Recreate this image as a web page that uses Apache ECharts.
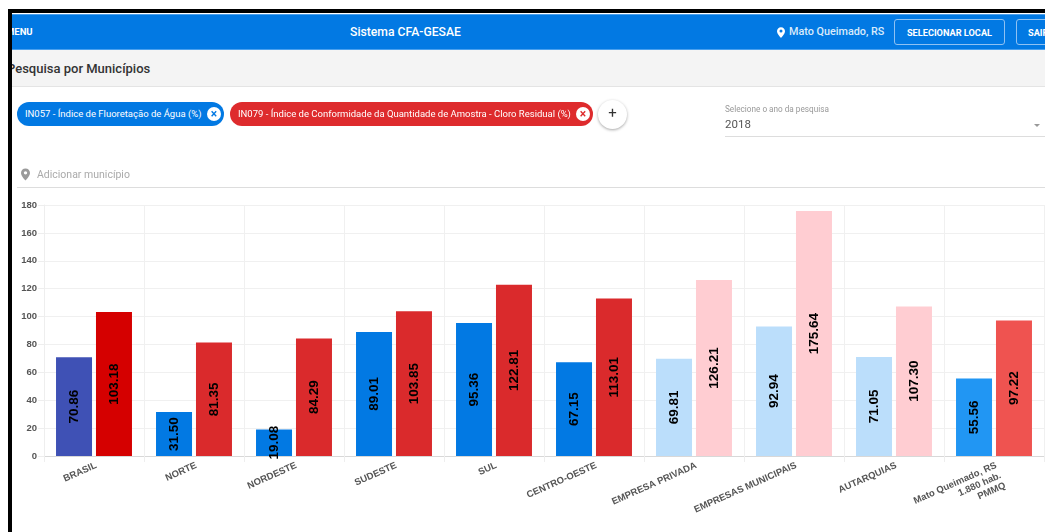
<!DOCTYPE html>
<html><head><meta charset="utf-8">
<script src="https://cdn.jsdelivr.net/npm/echarts@6/dist/echarts.min.js"></script>
<style>
html,body{margin:0;padding:0;background:#fff;overflow:hidden;width:1045px;height:532px;font-family:Roboto,sans-serif}
#page{position:absolute;left:0;top:0;width:1045px;height:532px;overflow:hidden;filter:blur(0.4px)}
.a{position:absolute;white-space:nowrap}
#chart{position:absolute;left:0;top:190px;width:1045px;height:342px}
.chip{position:absolute;top:102px;height:24px;border-radius:12px;color:#fff;font-size:9.5px;line-height:24px;padding-left:8px;box-sizing:border-box;white-space:nowrap}
.x{position:absolute;top:5px;width:14px;height:14px;border-radius:7px;background:#fff;font-size:12px;line-height:14px;text-align:center;font-weight:700}
.btn{position:absolute;top:19px;height:26px;border:1px solid #8fc1f2;border-radius:3px;color:#fff;font-size:9.2px;font-weight:700;line-height:25px;text-align:center;box-sizing:border-box}
</style></head><body>
<div id="page">
  <div class="a" style="left:12px;top:14px;right:0;height:36px;background:#0279e3;border-top:1px solid #4aa0ee;border-bottom:1px solid #4aa0ee;box-sizing:border-box"></div>
  <div class="a" style="left:12px;top:50px;right:0;height:36px;background:#f4f4f4;border-bottom:1px solid #e4e4e4"></div>
  <div class="a" style="left:12px;top:26px;width:24px;overflow:hidden;color:#fff;font-size:9.5px;font-weight:700"><span style="margin-left:-6px">MENU</span></div>
  <div class="a" style="left:350px;top:25px;color:#fff;font-size:12.2px;font-weight:500">Sistema CFA-GESAE</div>
  <svg class="a" style="left:777px;top:27px" width="8" height="11" viewBox="0 0 24 32"><path fill="#fff" d="M12 0C5 0 0 5 0 12c0 8 12 20 12 20s12-12 12-20C24 5 19 0 12 0zm0 16a4.500 4.500 0 1 1 0-9 4.500 4.500 0 0 1 0 9z"/></svg>
  <div class="a" style="left:789px;top:25px;color:#d9ebfb;font-size:10.800px;font-weight:500;line-height:14px">Mato Queimado, RS</div>
  <div class="btn" style="left:894px;width:111px">SELECIONAR LOCAL</div>
  <div class="btn" style="left:1016px;width:50px;text-align:left;padding-left:11px">SAIR</div>
  <div class="a" style="left:12px;top:61px;width:200px;overflow:hidden;color:#333;font-size:13px;font-weight:500"><span style="margin-left:-5px">Pesquisa por Municípios</span></div>

  <div class="chip" style="left:17px;width:207px;background:#0279e3">IN057 - Índice de Fluoretação de Água (%)<span class="x" style="right:3px;color:#0279e3">×</span></div>
  <div class="chip" style="left:230px;width:363px;background:#de2b2d">IN079 - Índice de Conformidade da Quantidade de Amostra - Cloro Residual (%)<span class="x" style="right:3px;color:#de2b2d">×</span></div>
  <div class="a" style="left:598px;top:100px;width:29px;height:29px;border-radius:15px;background:#fff;box-shadow:0 1px 3px rgba(0,0,0,.35);text-align:center;line-height:27px;font-size:15px;color:#333">+</div>

  <div class="a" style="left:725px;top:104px;color:#999;font-size:8.200px">Selecione o ano da pesquisa</div>
  <div class="a" style="left:725px;top:117px;color:#555;font-size:11.500px">2018</div>
  <div class="a" style="left:725px;top:136px;right:0;height:1px;background:#ddd"></div>
  <div class="a" style="left:1034px;top:124px;width:0;height:0;border-left:3.500px solid transparent;border-right:3.500px solid transparent;border-top:3.500px solid #999"></div>

  <svg class="a" style="left:21px;top:168px" width="9" height="13" viewBox="0 0 24 32"><path fill="#9a9a9a" d="M12 0C5 0 0 5 0 12c0 8 12 20 12 20s12-12 12-20C24 5 19 0 12 0zm0 16a4.500 4.500 0 1 1 0-9 4.500 4.500 0 0 1 0 9z"/></svg>
  <div class="a" style="left:37px;top:168px;color:#aaa;font-size:10.500px">Adicionar município</div>
  <div class="a" style="left:17px;top:187px;right:0;height:1px;background:#ddd"></div>

  <div id="chart"></div>

  <div class="a" style="left:8px;top:9px;width:4px;height:523px;background:#000"></div>
  <div class="a" style="left:8px;top:9px;right:0;height:4px;background:#000"></div>
</div>
<script>
var categories = ['BRASIL','NORTE','NORDESTE','SUDESTE','SUL','CENTRO-OESTE','EMPRESA PRIVADA','EMPRESAS MUNICIPAIS','AUTARQUIAS','Mato Queimado, RS\n1.880 hab.\nPMMQ'];
var fluoretacao = [70.86,31.50,19.08,89.01,95.36,67.15,69.81,92.94,71.05,55.56];
var cloroResidual = [103.18,81.35,84.29,103.85,122.81,113.01,126.21,175.64,107.30,97.22];
var coresFluoretacao = ['#3f51b5','#0279e3','#0279e3','#0279e3','#0279e3','#0279e3','#bbdefb','#bbdefb','#bbdefb','#2196f3'];
var coresCloro = ['#d50000','#da2a2c','#da2a2c','#da2a2c','#da2a2c','#da2a2c','#ffcdd2','#ffcdd2','#ffcdd2','#ef5350'];

function makeSeries(name, values, colors){
  return {
    name:name, type:'bar', barWidth:36, barGap:'11%',
    data:values.map(function(v,i){return {value:v,itemStyle:{color:colors[i]}};}),
    label:{show:true,position:'inside',rotate:90,align:'center',verticalAlign:'middle',
      color:'#000',fontFamily:'Liberation Sans',fontSize:13.500,fontWeight:'bold',
      textBorderWidth:0,textShadowBlur:0,
      formatter:function(p){return p.value.toFixed(2);}},
    labelLayout:{hideOverlap:false},
    silent:true, animation:false
  };
}
var chart = echarts.init(document.getElementById('chart'));
chart.setOption({
  animation:false,
  grid:{left:44,right:1,top:15,bottom:76,containLabel:false},
  xAxis:{type:'category',data:categories,boundaryGap:true,
    axisLine:{lineStyle:{color:'#d8d8d8',width:1}},
    axisTick:{show:true,length:6,alignWithLabel:false,lineStyle:{color:'#eeeeee'}},
    splitLine:{show:true,lineStyle:{color:'#f0f0f0'}},
    axisLabel:{interval:0,rotate:24,margin:4,color:'#555',fontFamily:'Liberation Sans',fontSize:9.500,fontWeight:'bold',lineHeight:11,align:'right',verticalAlign:'top'}},
  yAxis:{type:'value',min:0,max:180,interval:20,
    axisLine:{show:true,lineStyle:{color:'#eeeeee'}},
    axisTick:{show:true,length:6,lineStyle:{color:'#eeeeee'}},
    splitLine:{show:true,lineStyle:{color:'#f0f0f0'}},
    axisLabel:{margin:7,color:'#555',fontFamily:'Liberation Sans',fontSize:9.500,fontWeight:'bold'}},
  series:[makeSeries('IN057 - Índice de Fluoretação de Água (%)',fluoretacao,coresFluoretacao),
          makeSeries('IN079 - Índice de Conformidade da Quantidade de Amostra - Cloro Residual (%)',cloroResidual,coresCloro)]
});
</script>
</body></html>
